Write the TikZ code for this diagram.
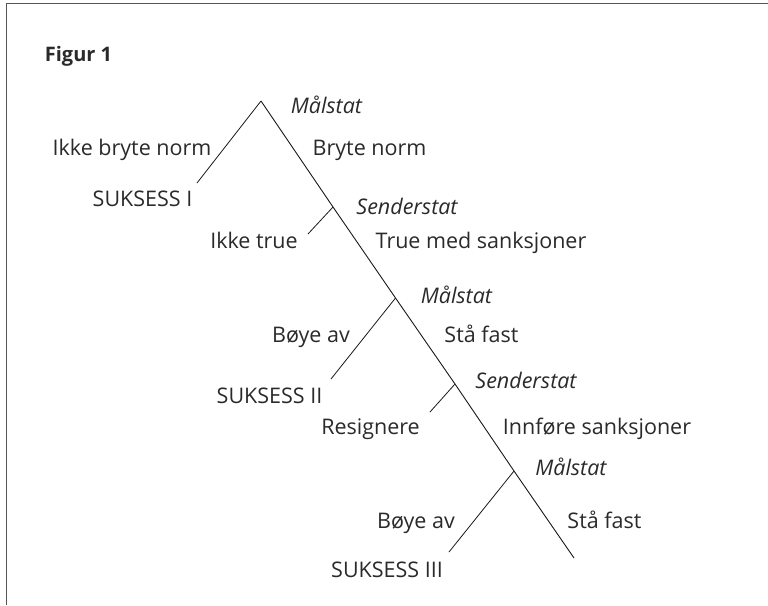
\documentclass[tikz,border=0pt]{standalone}
\usepackage{fontspec}
\setmainfont{Open Sans}
\definecolor{txt}{HTML}{2A2A2A}
\definecolor{frame}{HTML}{555555}
\begin{document}
\begin{tikzpicture}[x=1pt,y=-1pt,
  lbl/.style={anchor=base,inner sep=0pt,text=txt,font=\fontsize{21.5}{24}\selectfont},
  ilbl/.style={lbl,font=\fontsize{21.5}{24}\selectfont\itshape},
  edge/.style={draw=black!90,line width=0.9pt},
  branch/.style={draw=black!90,line width=0.8pt}]
\useasboundingbox (0,0) rectangle (768,605);
% frame
\draw[frame,line width=1.2pt] (6.5,605) -- (6.5,3.5) -- (768,3.5);
% title
\node[lbl,font=\fontsize{20}{24}\selectfont\bfseries] (title) at (78.5,61) {Figur 1};
% tree points
\coordinate (apex) at (261,101);
\coordinate (s1) at (333,207);
\coordinate (m2) at (395.5,298);
\coordinate (s2) at (455,384);
\coordinate (m3) at (514,471);
\coordinate (tend) at (574,558);
\coordinate (l1) at (197,183);
\coordinate (l2) at (308,234);
\coordinate (l3) at (331,379);
\coordinate (l4) at (430,412);
\coordinate (l5) at (449,552);
% main line
\draw[edge] (apex) -- (s1) -- (m2) -- (s2) -- (m3) -- (tend);
% branches
\draw[branch] (apex) -- (l1);
\draw[branch] (s1) -- (l2);
\draw[branch] (m2) -- (l3);
\draw[branch] (s2) -- (l4);
\draw[branch] (m3) -- (l5);
% labels
\node[ilbl] (t1) at (326.5,113) {Målstat};
\node[lbl] (t2) at (369.5,155) {Bryte norm};
\node[lbl] (t3) at (132,155) {Ikke bryte norm};
\node[lbl] (t4) at (142.5,206) {SUKSESS I};
\node[ilbl] (t5) at (407,214) {Senderstat};
\node[lbl] (t6) at (254,248) {Ikke true};
\node[lbl] (t7) at (481,248) {True med sanksjoner};
\node[ilbl] (t8) at (456.5,303) {Målstat};
\node[lbl] (t9) at (311,342) {Bøye av};
\node[lbl] (t10) at (481.5,342) {Stå fast};
\node[lbl] (t11) at (269.5,403) {SUKSESS II};
\node[ilbl] (t12) at (526,388) {Senderstat};
\node[lbl] (t13) at (370.5,434) {Resignere};
\node[lbl] (t14) at (597,434) {Innføre sanksjoner};
\node[ilbl] (t15) at (571,475) {Målstat};
\node[lbl] (t16) at (416,528) {Bøye av};
\node[lbl] (t17) at (604.5,528) {Stå fast};
\node[lbl] (t18) at (387,577) {SUKSESS III};
\end{tikzpicture}
\end{document}
